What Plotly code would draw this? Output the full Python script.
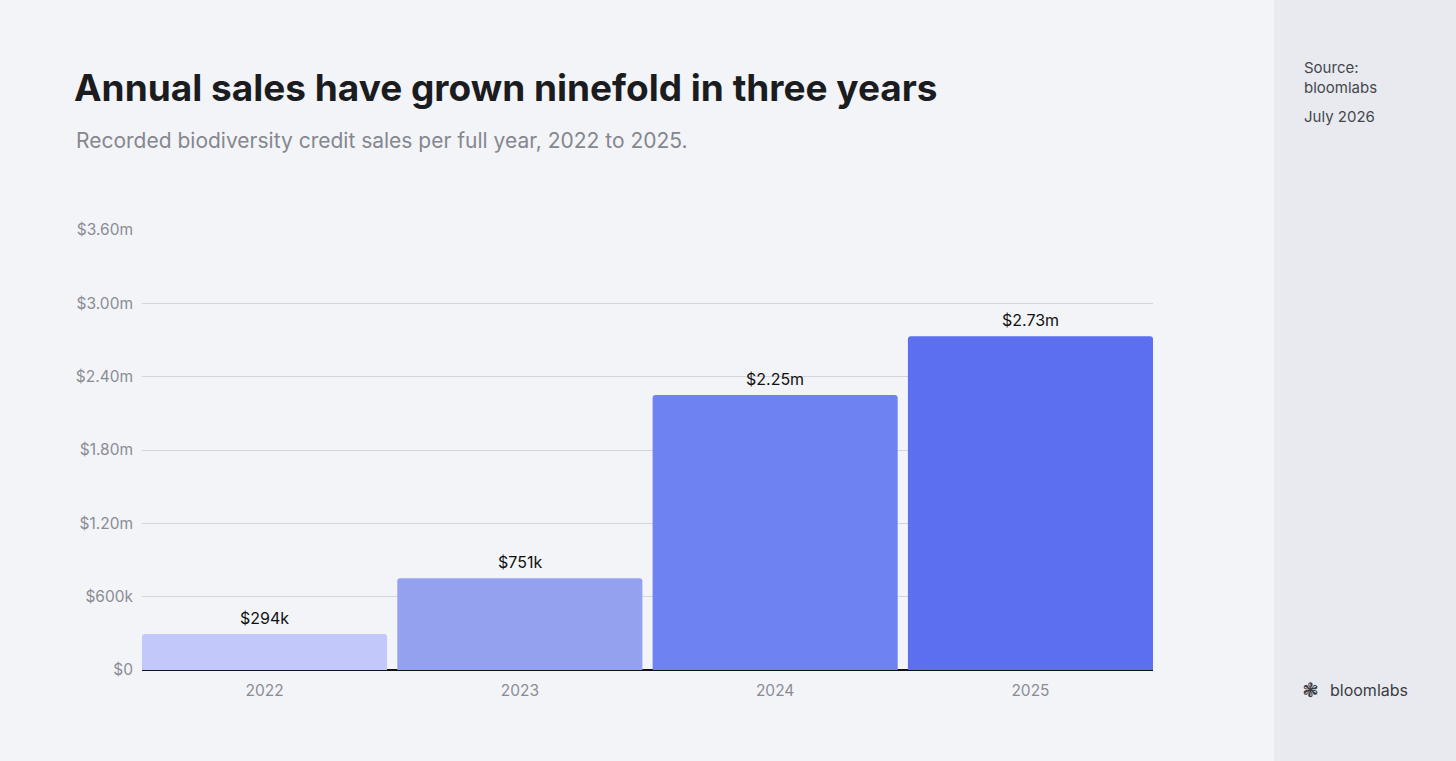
import plotly.graph_objects as go

years = ["2022", "2023", "2024", "2025"]
sales = [294000, 751000, 2250000, 2730000]
sale_labels = ["$294k", "$751k", "$2.25m", "$2.73m"]
bar_colors = ["#c2c8f9", "#94a1ef", "#6f82f2", "#5b6fef"]
tick_vals = [0, 600000, 1200000, 1800000, 2400000, 3000000, 3600000]
tick_text = ["$0", "$600k", "$1.20m", "$1.80m", "$2.40m", "$3.00m", "$3.60m"]

title = "Annual sales have grown ninefold in three years"
subtitle = "Recorded biodiversity credit sales per full year, 2022 to 2025."

W, H = 1456, 761
L, R, T, B = 142, 1153, 230, 670
GAP = 0.04


def px_x(x):  # pixel -> paper
    return (x - L) / (R - L)


def px_y(y):
    return (B - y) / (B - T)


FONT = "Inter"

fig = go.Figure(go.Bar(
    x=years, y=sales,
    marker=dict(color=bar_colors, line=dict(width=0), cornerradius=3),
    hoverinfo="x+y",
))

# value labels above bars (category index on x)
annotations = []
for i, (v, lab) in enumerate(zip(sales, sale_labels)):
    annotations.append(dict(x=i, y=v, text=lab, showarrow=False, yanchor="bottom",
                            yshift=4, font=dict(family=FONT, size=16, color="#111111")))

annotations += [
    dict(xref="paper", yref="paper", x=px_x(72), y=px_y(87), text="<b>" + title + "</b>",
         xanchor="left", yanchor="middle", showarrow=False,
         font=dict(family=FONT, size=37, color="#1b1c20")),
    dict(xref="paper", yref="paper", x=px_x(74), y=px_y(140), text=subtitle,
         xanchor="left", yanchor="middle", showarrow=False,
         font=dict(family=FONT, size=21, color="#85878f")),
    dict(xref="paper", yref="paper", x=px_x(1302), y=px_y(56), text="Source:<br>bloomlabs",
         xanchor="left", yanchor="top", align="left", showarrow=False,
         font=dict(family=FONT, size=15, color="#45474d")),
    dict(xref="paper", yref="paper", x=px_x(1302), y=px_y(116), text="July 2026",
         xanchor="left", yanchor="middle", showarrow=False,
         font=dict(family=FONT, size=15, color="#45474d")),
    dict(xref="paper", yref="paper", x=px_x(1300), y=px_y(690), text="❃",
         xanchor="left", yanchor="middle", showarrow=False,
         font=dict(family="DejaVu Sans", size=20, color="#3a3c42")),
    dict(xref="paper", yref="paper", x=px_x(1328), y=px_y(690), text="bloomlabs",
         xanchor="left", yanchor="middle", showarrow=False,
         font=dict(family=FONT, size=16, color="#3a3c42")),
]

fig.update_layout(
    width=W, height=H,
    margin=dict(l=L, r=W - R, t=T, b=H - B),
    paper_bgcolor="#f3f4f8", plot_bgcolor="#f3f4f8",
    bargap=GAP,
    showlegend=False,
    annotations=annotations,
    shapes=[dict(type="rect", xref="paper", yref="paper",
                 x0=px_x(1274), x1=px_x(W + 5), y0=px_y(H + 5), y1=px_y(-5),
                 fillcolor="#e9eaef", line=dict(width=0), layer="below")],
    xaxis=dict(type="category", range=[-0.5 + GAP / 2, len(years) - 0.5 - GAP / 2],
               showgrid=False, showline=False, zeroline=False, ticks="",
               ticklabelstandoff=9,
               tickfont=dict(family=FONT, size=15.5, color="#8a8c94")),
    yaxis=dict(range=[0, 3600000], tickvals=tick_vals, ticktext=tick_text,
               showgrid=True, gridcolor="#d3d5db", gridwidth=1,
               zeroline=True, zerolinecolor="#111111", zerolinewidth=2,
               ticks="", ticklabelstandoff=8,
               tickfont=dict(family=FONT, size=15.5, color="#8a8c94")),
    font=dict(family=FONT),
)

fig.write_html("out.html", config={"displayModeBar": False},
               post_script="document.body.style.margin='0';")
